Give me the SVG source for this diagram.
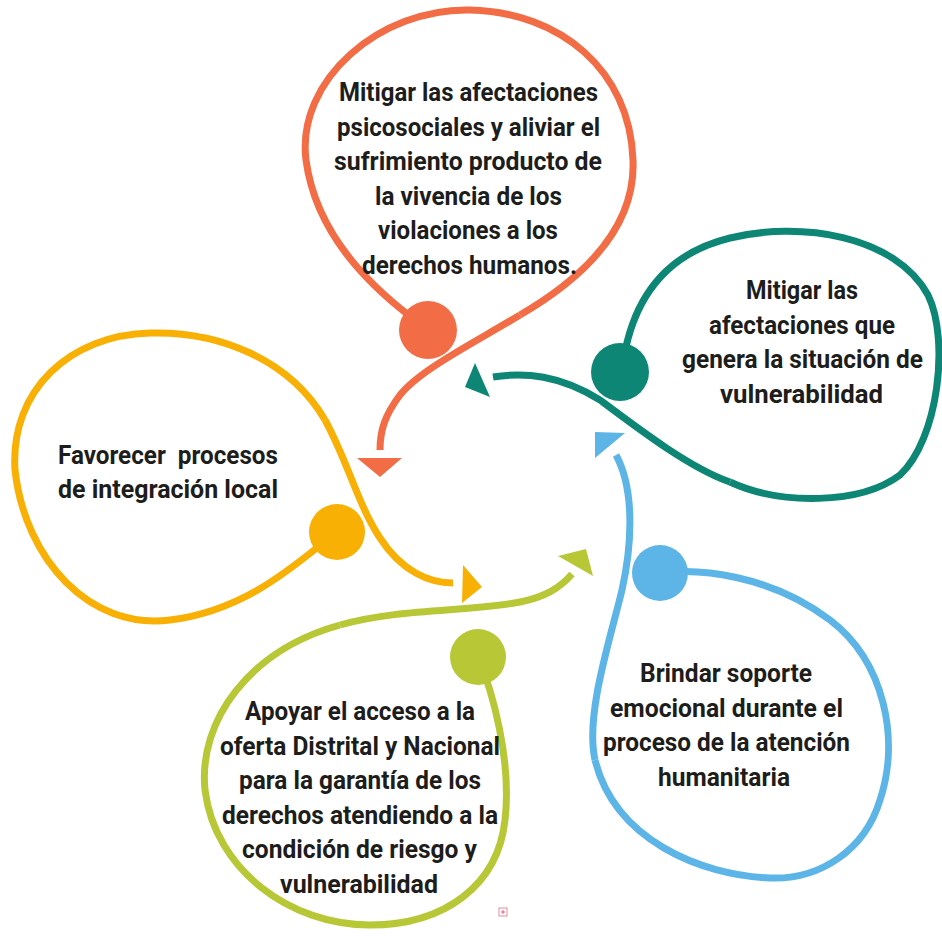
<svg xmlns="http://www.w3.org/2000/svg" width="942" height="936" viewBox="0 0 942 936">
<style>
.ln{fill:none;stroke-width:7;stroke-linecap:butt;stroke-linejoin:round}
.t{font-family:Roboto,"Noto Sans","Liberation Sans",sans-serif;font-weight:700;font-size:25px;fill:#1d1d1b;text-anchor:middle}
.tl{text-anchor:start;white-space:pre}
.or{stroke:#F26C45}.orf{fill:#F26C45}
.te{stroke:#0D8675}.tef{fill:#0D8675}
.ye{stroke:#F8B004}.yef{fill:#F8B004}
.gr{stroke:#B8C735}.grf{fill:#B8C735}
.bl{stroke:#5CB5E6}.blf{fill:#5CB5E6}
</style>
<rect width="942" height="936" fill="#ffffff"/>

<g id="node-orange">
<path class="ln or" d="M428,330 C395,305 318,250 306,160 C296,80 380,8 470,10 C560,12 630,70 633,160 C636,230 580,280 520,315"/>
<circle class="orf" cx="428" cy="330" r="29"/>
<text class="t" x="468.5" y="101" textLength="259" lengthAdjust="spacingAndGlyphs">Mitigar las afectaciones</text>
<text class="t" x="468.5" y="135.6" textLength="263" lengthAdjust="spacingAndGlyphs">psicosociales y aliviar el</text>
<text class="t" x="468" y="170.2" textLength="268" lengthAdjust="spacingAndGlyphs">sufrimiento producto de</text>
<text class="t" x="468.5" y="204.8" textLength="187" lengthAdjust="spacingAndGlyphs">la vivencia de los</text>
<text class="t" x="468" y="239.4" textLength="180" lengthAdjust="spacingAndGlyphs">violaciones a los</text>
<text class="t" x="469.5" y="274" textLength="215" lengthAdjust="spacingAndGlyphs">derechos humanos.</text>
</g>

<g id="node-teal">
<path class="ln te" d="M622,370 C630,305 660,255 730,238 C800,221 895,235 928,295 C950,340 938,440 900,475 C860,505 780,505 730,482"/>
<circle class="tef" cx="620" cy="372" r="29"/>
<text class="t" x="802" y="299" textLength="112" lengthAdjust="spacingAndGlyphs">Mitigar las</text>
<text class="t" x="802" y="333.6" textLength="186" lengthAdjust="spacingAndGlyphs">afectaciones que</text>
<text class="t" x="802.5" y="368.2" textLength="241" lengthAdjust="spacingAndGlyphs">genera la situación de</text>
<text class="t" x="801.5" y="402.8" textLength="163" lengthAdjust="spacingAndGlyphs">vulnerabilidad</text>
</g>

<g id="node-yellow">
<path class="ln ye" d="M337,532 C300,560 250,610 170,620 C90,630 25,560 15,470 C10,390 70,335 150,333 C220,331 290,360 325,420"/>
<circle class="yef" cx="337" cy="532" r="28"/>
<text class="t tl" x="58" y="464" textLength="220" lengthAdjust="spacingAndGlyphs" xml:space="preserve">Favorecer  procesos</text>
<text class="t tl" x="58" y="498" textLength="220" lengthAdjust="spacingAndGlyphs">de integración local</text>
</g>

<g id="node-green">
<path class="ln gr" d="M478,657 C492,690 512,760 505,820 C498,885 445,925 370,925 C290,925 215,870 205,790 C198,720 250,650 340,625"/>
<circle class="grf" cx="478" cy="657" r="28"/>
<text class="t" x="360" y="720" textLength="230" lengthAdjust="spacingAndGlyphs">Apoyar el acceso a la</text>
<text class="t" x="360" y="754.6" textLength="280" lengthAdjust="spacingAndGlyphs">oferta Distrital y Nacional</text>
<text class="t" x="360" y="789.2" textLength="242" lengthAdjust="spacingAndGlyphs">para la garantía de los</text>
<text class="t" x="360" y="823.8" textLength="276" lengthAdjust="spacingAndGlyphs">derechos atendiendo a la</text>
<text class="t" x="359.5" y="858.4" textLength="235" lengthAdjust="spacingAndGlyphs">condición de riesgo y</text>
<text class="t" x="359" y="893" textLength="158" lengthAdjust="spacingAndGlyphs">vulnerabilidad</text>
</g>

<g id="node-blue">
<path class="ln bl" d="M660,573 C700,568 770,575 830,620 C885,662 900,740 880,800 C865,850 820,880 770,878 C700,875 615,840 595,760"/>
<circle class="blf" cx="660" cy="573" r="28"/>
<text class="t" x="726" y="682" textLength="172" lengthAdjust="spacingAndGlyphs">Brindar soporte</text>
<text class="t" x="726.5" y="716.6" textLength="233" lengthAdjust="spacingAndGlyphs">emocional durante el</text>
<text class="t" x="726.5" y="751.2" textLength="247" lengthAdjust="spacingAndGlyphs">proceso de la atención</text>
<text class="t" x="724" y="785.8" textLength="132" lengthAdjust="spacingAndGlyphs">humanitaria</text>
</g>

<g id="connectors">
<path class="ln or" d="M520,315 C470,345 420,370 400,395 C385,415 380,430 380,450"/>
<polygon class="orf" points="357,458 402,458 380,477"/>
<path class="ln te" d="M730,482 C690,468 640,430 600,400 C560,375 525,372 493,377"/>
<polygon class="tef" points="475,363 490,397 465,387"/>
<path class="ln ye" d="M325,420 C348,462 358,505 380,538 C402,572 430,583 453,583"/>
<polygon class="yef" points="463,565 482,587 462,603"/>
<path class="ln gr" d="M340,625 C400,608 470,612 520,602 C545,597 560,588 572,574"/>
<polygon class="grf" points="558,556 586,549 593,576"/>
<path class="ln bl" d="M595,760 C585,715 610,640 622,590 C632,545 635,490 616,455"/>
<polygon class="blf" points="595,432 625,433 595,458"/>
</g>

<g id="marker-icon">
<rect x="499" y="908" width="8" height="8" fill="none" stroke="#E98AA0" stroke-width="1"/>
<path d="M503,910 V914 M501,912 H505" stroke="#E06080" stroke-width="1"/>
</g>
</svg>
